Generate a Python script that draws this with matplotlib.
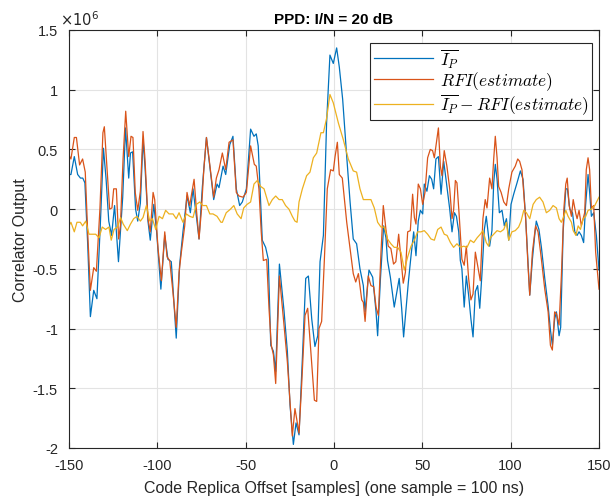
import matplotlib
matplotlib.use("Agg")
import matplotlib.pyplot as plt
from matplotlib.ticker import FuncFormatter

# values, in units of 1e6
ip_x = [-150, -148.9, -147, -145.1, -143.5, -142.2, -141, -139.4, -137.9, -136, -134.2, -132.3, -130.5, -129,
        -127.5, -125.9, -124.2, -122, -119.6, -118, -116.2, -115.2, -114, -112.3, -111.1, -109.6, -108.1, -107,
        -105.3, -104, -102, -100.4, -98, -95.8, -94, -92.1, -89.3, -87.4, -85.5, -83.2, -81.3, -79.8, -77.9,
        -76.4, -74.5, -72.2, -70.3, -68.1, -66.2, -65.1, -62.8, -61.3, -59, -57.2, -55.3, -53.4, -51.9, -49.6,
        -47.2, -45.3, -44, -42.9, -41.5, -40.6, -38.7, -37.2, -35.8, -34.3, -33, -30.9, -28.3, -26.4, -24.9,
        -23, -21.5, -19.8, -17.9, -16, -14.5, -12.6, -10.8, -9.2, -7.9, -6, -4.2, -3.2, -2.3, -0.4, 1.5, 3,
        4.9, 7.2, 9.1, 10.9, 12.8, 14.7, 16.6, 17.6, 19.8, 21.9, 23.8, 24.7, 26.3, 28.1, 29.4, 30.3, 31.9,
        34.1, 35.6, 36.9, 38.3, 39.4, 40.8, 42.1, 43.6, 45.1, 46.4, 47.7, 48.9, 50.2, 51.1, 52.6, 54, 55.3,
        56.4, 57.7, 59.1, 60.6, 62.1, 63.4, 65.5, 66.8, 68.2, 69.3, 70.6, 71.5, 72.4, 73.7, 74.9, 76.2, 77.5,
        78.7, 80, 81.3, 82.5, 83.8, 85.1, 86.2, 88.1, 89.4, 90.4, 91.3, 92.3, 93.6, 95.1, 96.4, 97.6, 98.9,
        100.2, 101.7, 103.6, 105.5, 107, 108.5, 110.8, 112.3, 113.6, 114.5, 116, 117.4, 119.3, 121.2, 122.5,
        123.6, 124.9, 125.9, 127.4, 128.3, 129.7, 131.2, 132.1, 133.5, 135, 136.3, 137.6, 138.7, 140, 141.3,
        142.4, 143.8, 144.7, 145.7, 147, 148.5, 150]
ip_y = [0.29, 0.29, 0.44, 0.29, 0.26, 0.26, 0.22, -0.3, -0.9, -0.68, -0.75, -0.14, 0.51, 0.25,
        -0.1, -0.22, 0.03, -0.44, 0.1, 0.68, 0.26, 0.47, 0.48, 0.0, -0.1, 0.05, 0.58, 0.36,
        -0.1, -0.26, 0.04, -0.19, -0.67, -0.22, -0.42, -0.44, -1.08, -0.47, -0.19, 0.11, -0.03, 0.17, -0.06,
        -0.25, 0.19, 0.6, 0.36, 0.08, 0.21, 0.18, 0.36, 0.29, 0.54, 0.61, 0.17, 0.03, 0.06, 0.17,
        0.67, 0.61, 0.63, 0.53, 0.06, -0.26, -0.32, -0.42, -1.14, -1.19, -1.36, -0.46, -0.85, -1.19, -1.64,
        -1.97, -1.79, -1.89, -1.25, -0.58, -0.56, -0.92, -1.15, -1.06, -0.44, -0.22, 0.72, 1.03, 1.29, 1.22, 1.35, 1.19,
        0.92, 0.44, 0.06, -0.25, -0.29, -0.5, -0.64, -0.86, -0.51, -0.57, -0.86, -1.06, -0.58, -0.14, -0.24, -0.43, -0.57,
        -0.82, -0.69, -0.58, -0.83, -1.07, -0.83, -0.61, -0.39, -0.19, -0.39, -0.1, -0.01, -0.04, 0.21, 0.15, 0.28, 0.25,
        0.17, 0.42, 0.44, 0.125, 0.4, 0.25, 0.0, -0.19, -0.03, -0.06, -0.19, -0.43, -0.5, -0.82, -0.56, -0.72, -0.92,
        -1.07, -0.69, -0.64, -0.83, -0.53, -0.17, -0.06, -0.31, -0.18, 0.22, 0.375, 0.25, -0.03, -0.01, -0.14, -0.08, -0.26,
        0.04, 0.125, 0.22, 0.32, 0.25, -0.08, -0.72, -0.42, -0.22, -0.1, -0.17, -0.32, -0.58, -0.81, -1.01,
        -1.14, -0.92, -0.86, -1.06, -0.99, -0.19, 0.17, 0.17, 0.0, -0.03, -0.19, -0.22, -0.19, -0.22, -0.28,
        0.03, 0.29, 0.14, -0.06, -0.03, -0.22, -0.51]

rfi_x = [-150, -148.9, -147, -145.8, -144, -142.3, -140.8, -139.4, -137.9, -136, -134.5, -132.5, -130.8, -130,
         -128.5, -127, -125.7, -124.7, -123.2, -121.9, -120.9, -119.4, -117.9, -116.2, -114.9, -113.8, -112.5,
         -111.1, -109.6, -108.1, -107, -105.3, -104, -102.4, -101.5, -99.6, -97.7, -95.8, -94.5, -93, -91.2,
         -89.3, -87.7, -86.4, -84.5, -83.2, -81.7, -79.2, -77.9, -76.4, -75, -73.7, -72.2, -70.7, -68.1, -66.6,
         -65.1, -63.2, -61.3, -59.4, -57.2, -55.3, -53.8, -51.5, -49.6, -47.2, -45.1, -44, -42.5, -41.2, -40,
         -38.1, -36.8, -35.5, -34.3, -33, -30.9, -28.3, -26.4, -24.9, -23.6, -22.1, -19.8, -18.3, -16.4, -14.9,
         -13, -11.1, -9.8, -8.5, -7, -5.5, -3.8, -1.9, -0.4, 0.6, 1.9, 3, 4.7, 7.2, 9.1, 10.9, 12.3, 13.8, 15.7,
         16.6, 17.6, 19.4, 20.9, 22.5, 23.8, 25.1, 26.6, 27.9, 29.4, 30.7, 32.2, 33.7, 35, 36.6, 37.9, 39.2,
         40.4, 41.7, 43.2, 44.5, 45.5, 46.4, 47.7, 48.9, 50.2, 51.5, 53, 54.5, 55.8, 56.8, 57.7, 59.1, 60.2,
         61.1, 62.4, 63.9, 65.5, 66.8, 67.7, 68.7, 69.6, 70.9, 72.4, 73.7, 74.9, 76.2, 77.5, 78.7, 80, 81.3,
         82.8, 84.3, 85.6, 86.6, 88.1, 89.4, 90.4, 91.3, 92.3, 93.2, 94.6, 96.1, 97.6, 98.9, 100.7, 102.6, 104,
         105.1, 106.4, 108.5, 109.8, 110.8, 112.3, 114.1, 115.5, 117.4, 119.3, 121.2, 122.5, 123.6, 124.9,
         125.9, 127.4, 128.7, 130.1, 131.2, 132, 133.1, 134.4, 135.4, 136.9, 137.6, 138.7, 140, 141.9, 142.8,
         143.8, 144.7, 145.7, 147, 148.1, 150]
rfi_y = [0.45, 0.42, 0.6, 0.6, 0.37, 0.42, 0.31, -0.2, -0.68, -0.49, -0.52, 0.0, 0.64, 0.69,
         0.35, 0.0, 0.01, 0.17, 0.17, -0.25, -0.14, 0.42, 0.82, 0.44, 0.61, 0.6, 0.14,
         -0.01, 0.15, 0.65, 0.42, -0.08, -0.19, 0.14, 0.08, -0.33, -0.6, -0.19, -0.4, -0.43, -0.69,
         -0.99, -0.53, -0.36, -0.14, 0.14, 0.03, 0.25, 0.0, -0.25, 0.0, 0.33, 0.6, 0.42, 0.1, 0.26,
         0.33, 0.47, 0.33, 0.56, 0.58, 0.14, 0.11, 0.1, 0.14, 0.53, 0.375, 0.36, 0.17, -0.19, -0.43,
         -0.42, -0.83, -1.14, -1.22, -1.46, -0.56, -0.97, -1.28, -1.61, -1.9, -1.67, -1.875, -1.47, -0.89, -0.83,
         -1.22, -1.6, -1.61, -1.0, -0.94, -0.44, 0.17, 0.33, 0.32, 0.44, 0.56, 0.29, 0.26, -0.11, -0.33, -0.54, -0.61, -0.54, -0.76,
         -0.78, -0.94, -0.56, -0.64, -0.65, -0.82, -0.89, -0.36, 0.03, -0.17, -0.31, -0.33, -0.46, -0.44, -0.21, -0.42, -0.62,
         -0.53, -0.19, -0.18, 0.125, -0.07, -0.125, 0.21, 0.17, 0.04, 0.14, 0.43, 0.5, 0.49, 0.43, 0.53, 0.68, 0.36,
         0.28, 0.49, 0.36, 0.17, -0.08, -0.01, 0.24, 0.22, -0.06, -0.42, -0.47, -0.31, -0.58, -0.76, -0.71, -0.36, -0.47,
         -0.6, -0.08, 0.08, 0.01, 0.26, 0.17, 0.42, 0.61, 0.43, 0.19, 0.14, 0.06, 0.03, 0.17, 0.31, 0.36, 0.42,
         0.4, 0.33, -0.08, -0.47, -0.72, -0.36, -0.14, -0.19, -0.42, -0.67, -0.86, -1.14, -1.18, -0.86,
         -0.875, -0.97, -0.56, 0.0, 0.21, 0.26, 0.03, -0.06, 0.08, -0.04, -0.08, -0.01, -0.14, -0.03, 0.33,
         0.43, 0.33, 0.01, 0.03, -0.36, -0.67]

diff_x = [-150, -148.9, -147, -145.5, -143.6, -142.3, -140.5, -138.7, -136.8, -134.9, -133, -131.2, -129.3,
          -127.4, -126.1, -124.5, -122.6, -120.8, -119.3, -117, -115.2, -113.4, -111.5, -109.6, -108.1, -106.2,
          -104.3, -102.8, -100.9, -99, -97.1, -95.3, -93.4, -91.1, -89.3, -87.7, -85.5, -83.6, -81.7, -79.8,
          -77.9, -76, -74.2, -72.2, -70.3, -68.5, -66.2, -64, -63.2, -61, -58.6, -56.7, -54.8, -52.6, -51.1,
          -49.2, -47.2, -45.3, -43.4, -41.5, -39.6, -36.8, -34.9, -33, -31.1, -29.3, -27.4, -25.5, -23.6, -22.1,
          -20.9, -19.8, -17.9, -15.5, -13.6, -11.7, -9.8, -7.4, -6, -4.2, -2.3, -0.4, 2.5, 5.3, 8.1, 10.9, 12.8,
          14.7, 16.6, 18.5, 20.9, 22.8, 24.7, 26.6, 28.5, 30.3, 32.2, 34.1, 36, 37.9, 39.8, 41.7, 43.6, 45.5,
          47.3, 49.2, 51.1, 53, 54.9, 56.8, 58.7, 60.6, 62.4, 64, 65.9, 67.7, 69.6, 71.5, 73.4, 75.3, 77.2, 79.1,
          81, 82.8, 84.3, 86.2, 87.5, 88.5, 90.4, 92.3, 94.2, 96.1, 97.6, 98.9, 100.7, 102.6, 104.5, 105.9,
          107.4, 108.9, 110.8, 112.7, 114.5, 116.4, 118.3, 120.2, 122.1, 124, 125.9, 127.4, 128.7, 130.1, 131.2,
          132.5, 134.4, 135.4, 136.9, 138.2, 139.5, 141, 142.5, 143.8, 145.7, 147.6, 150]
diff_y = [-0.14, -0.11, -0.19, -0.11, -0.11, -0.14, -0.1, -0.21, -0.21, -0.21, -0.24, -0.15, -0.17,
          -0.15, -0.26, -0.17, -0.15, -0.07, -0.125, -0.18, -0.125, -0.08, -0.06, -0.1, -0.07, 0.03,
          -0.1, -0.08, -0.17, -0.06, -0.08, -0.01, -0.04, -0.04, -0.08, -0.03, -0.11, -0.04, -0.06, -0.07,
          0.04, 0.06, 0.03, 0.03, -0.04, -0.04, -0.06, -0.11, -0.11, -0.03, 0.0, 0.03, -0.04, -0.08, 0.01,
          0.04, 0.06, 0.21, 0.24, 0.19, 0.17, 0.03, 0.08, 0.11, 0.08, 0.08, 0.03, 0.0, -0.06, -0.1,
          -0.11, 0.06, 0.17, 0.28, 0.31, 0.43, 0.47, 0.64, 0.64, 0.76, 0.96, 0.89, 0.72, 0.58, 0.42, 0.32, 0.31,
          0.17, 0.08, 0.08, 0.08, 0.01, -0.11, -0.15, -0.15, -0.25, -0.29, -0.32, -0.32, -0.36, -0.51, -0.4, -0.31, -0.26,
          -0.19, -0.19, -0.18, -0.21, -0.25, -0.26, -0.17, -0.15, -0.21, -0.22, -0.28, -0.32, -0.29, -0.32, -0.31, -0.32, -0.26, -0.28,
          -0.24, -0.21, -0.18, -0.28, -0.31, -0.24, -0.21, -0.18, -0.19, -0.17, -0.11, -0.26, -0.19, -0.18, -0.15, -0.1,
          -0.01, -0.03, -0.08, 0.04, 0.08, 0.1, 0.06, -0.03, -0.01, 0.03, 0.01, -0.08, -0.11, -0.06, -0.01,
          -0.06, -0.11, -0.18, -0.22, -0.14, -0.17, -0.08, -0.06, -0.01, 0.0, 0.03, 0.1]

x_ticks = [-150, -100, -50, 0, 50, 100, 150]
y_ticks = [-2, -1.5, -1, -0.5, 0, 0.5, 1, 1.5]

plt.rcParams['font.family'] = ['Liberation Sans', 'DejaVu Sans']
plt.rcParams['mathtext.fontset'] = 'cm'

fig = plt.figure(figsize=(6.11, 5.02), dpi=100)
ax = fig.add_axes([69 / 611, 1 - 449 / 502, 530 / 611, 418 / 502])

ax.plot(ip_x, ip_y, color='#0072BD', lw=0.9, label=r'$\overline{I_P}$')
ax.plot(rfi_x, rfi_y, color='#D95319', lw=0.9, label=r'$RFI(estimate)$')
ax.plot(diff_x, diff_y, color='#EDB120', lw=0.9, label=r'$\overline{I_P} - RFI(estimate)$')

ax.set_xlim(-150, 150)
ax.set_ylim(-2, 1.5)
ax.set_xticks(x_ticks)
ax.set_yticks(y_ticks)
ax.yaxis.set_major_formatter(FuncFormatter(lambda v, p: '%g' % v))
ax.xaxis.set_major_formatter(FuncFormatter(lambda v, p: '%g' % v))
ax.grid(True, color='#e3e3e3', lw=0.8)
ax.set_axisbelow(True)
ax.tick_params(direction='in', top=True, right=True, labelsize=10.5, colors='#262626', length=4)
ax.tick_params(axis='x', pad=7)
ax.tick_params(axis='y', pad=8)
for s in ax.spines.values():
    s.set_color('#262626')
    s.set_linewidth(0.8)

ax.set_title('PPD: I/N = 20 dB', fontsize=11, fontweight='bold', pad=5)
ax.set_xlabel('Code Replica Offset [samples] (one sample = 100 ns)', fontsize=11.5, color='#262626', labelpad=6)
ax.set_ylabel('Correlator Output', fontsize=11.5, color='#262626', labelpad=3)
ax.text(-0.017, 1.005, r'$\times10^{6}$', transform=ax.transAxes, fontsize=10.5, color='#262626',
        ha='left', va='bottom', family='DejaVu Sans', math_fontfamily='dejavusans')

leg = ax.legend(loc='upper right', bbox_to_anchor=(0.987, 0.969), fontsize=12.5, fancybox=False,
                edgecolor='#262626', framealpha=1, borderaxespad=0, handlelength=3.4, labelspacing=0.0,
                borderpad=0.2, handletextpad=0.4)
leg.get_frame().set_linewidth(0.8)

fig.savefig('out.png', dpi=100)
